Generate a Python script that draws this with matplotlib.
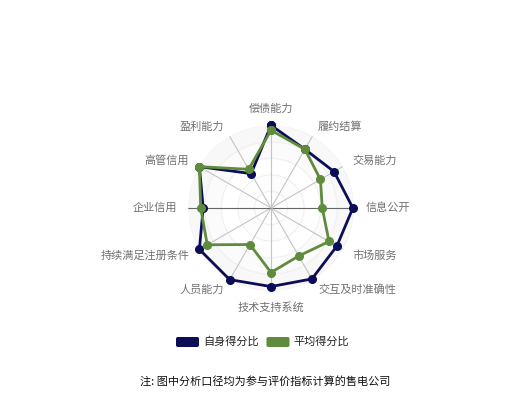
import numpy as np
import matplotlib
matplotlib.use("Agg")
import matplotlib.pyplot as plt
from matplotlib.patches import FancyBboxPatch

plt.rcParams['font.family'] = ['Noto Sans CJK SC', 'DejaVu Sans']

categories = ['偿债能力', '履约结算', '交易能力', '信息公开', '市场服务', '交互及时准确性',
              '技术支持系统', '人员能力', '持续满足注册条件', '企业信用', '高管信用', '盈利能力']
own_scores = [1.00, 0.82, 0.88, 0.99, 0.92, 0.99, 0.95, 1.00, 1.00, 0.82, 1.00, 0.48]
avg_scores = [0.94, 0.82, 0.69, 0.62, 0.81, 0.67, 0.78, 0.51, 0.89, 0.85, 1.00, 0.54]
series_names = ['自身得分比', '平均得分比']
note_text = '注: 图中分析口径均为参与评价指标计算的售电公司'

dark = '#0b0d57'
green = '#5e8b3c'

W, H = 532, 400
fig = plt.figure(figsize=(W / 100, H / 100), dpi=100)
fig.patch.set_facecolor('white')

cx, cy, R = 271, 208, 82.7
ax = fig.add_axes([(cx - R) / W, (H - cy - R) / H, 2 * R / W, 2 * R / H], projection='polar')
ax.set_theta_offset(np.pi / 2)
ax.set_theta_direction(-1)
ax.set_ylim(0, 1)
ax.set_xticks([])
ax.set_yticks([])
ax.grid(False)
ax.spines['polar'].set_visible(False)
ax.patch.set_alpha(0)

n = len(categories)
angles = np.arange(n) * 2 * np.pi / n

# split areas and circles
tt = np.linspace(0, 2 * np.pi, 361)
levels = [0.2, 0.4, 0.6, 0.8, 1.0]
fills = ['#ffffff', '#fdfdfd', '#ffffff', '#fbfbfb', '#f8f8f8']
prev = 0
for lv, fc in zip(levels, fills):
    ax.fill_between(tt, prev, lv, color=fc, zorder=0, lw=0)
    ax.plot(tt, np.full_like(tt, lv), color='#f0f0f0', lw=0.8, zorder=1)
    prev = lv

# spokes
for i, a in enumerate(angles):
    col = '#666666' if i in (3, 9) else '#c4c4c4'
    ax.plot([a, a], [0, 1], color=col, lw=0.8, zorder=2)

# data
ang_c = np.append(angles, angles[0])
own_c = np.append(own_scores, own_scores[0])
avg_c = np.append(avg_scores, avg_scores[0])
ax.plot(ang_c, own_c, color=dark, lw=2, marker='o', ms=5.5, zorder=4, clip_on=False)
ax.plot(ang_c, avg_c, color=green, lw=2, marker='o', ms=5.5, zorder=5, clip_on=False)

# labels
for a, lab in zip(angles, categories):
    s, c = np.sin(a), np.cos(a)
    if abs(s) < 1e-6:
        ha = 'center'
        va = 'bottom' if c > 0 else 'top'
    else:
        ha = 'left' if s > 0 else 'right'
        va = 'center'
    ax.text(a, 1.14, lab, ha=ha, va=va, fontsize=8, color='#707070', clip_on=False)

# legend
legend_items = [(176, 203, dark, series_names[0]), (266.5, 293, green, series_names[1])]
for rx, tx, col, name in legend_items:
    fig.patches.append(FancyBboxPatch((rx / W, 1 - 347 / H), 23 / W, 10 / H,
                                      boxstyle='round,pad=0,rounding_size=0.004',
                                      transform=fig.transFigure, facecolor=col,
                                      edgecolor='none', figure=fig))
    fig.text(tx / W, 1 - 342 / H, name, ha='left', va='center', fontsize=8, color='#222222')

fig.text(140 / W, 1 - 381 / H, note_text, ha='left', va='center', fontsize=8, color='#111111')

fig.savefig('out.png', dpi=100, facecolor='white')
